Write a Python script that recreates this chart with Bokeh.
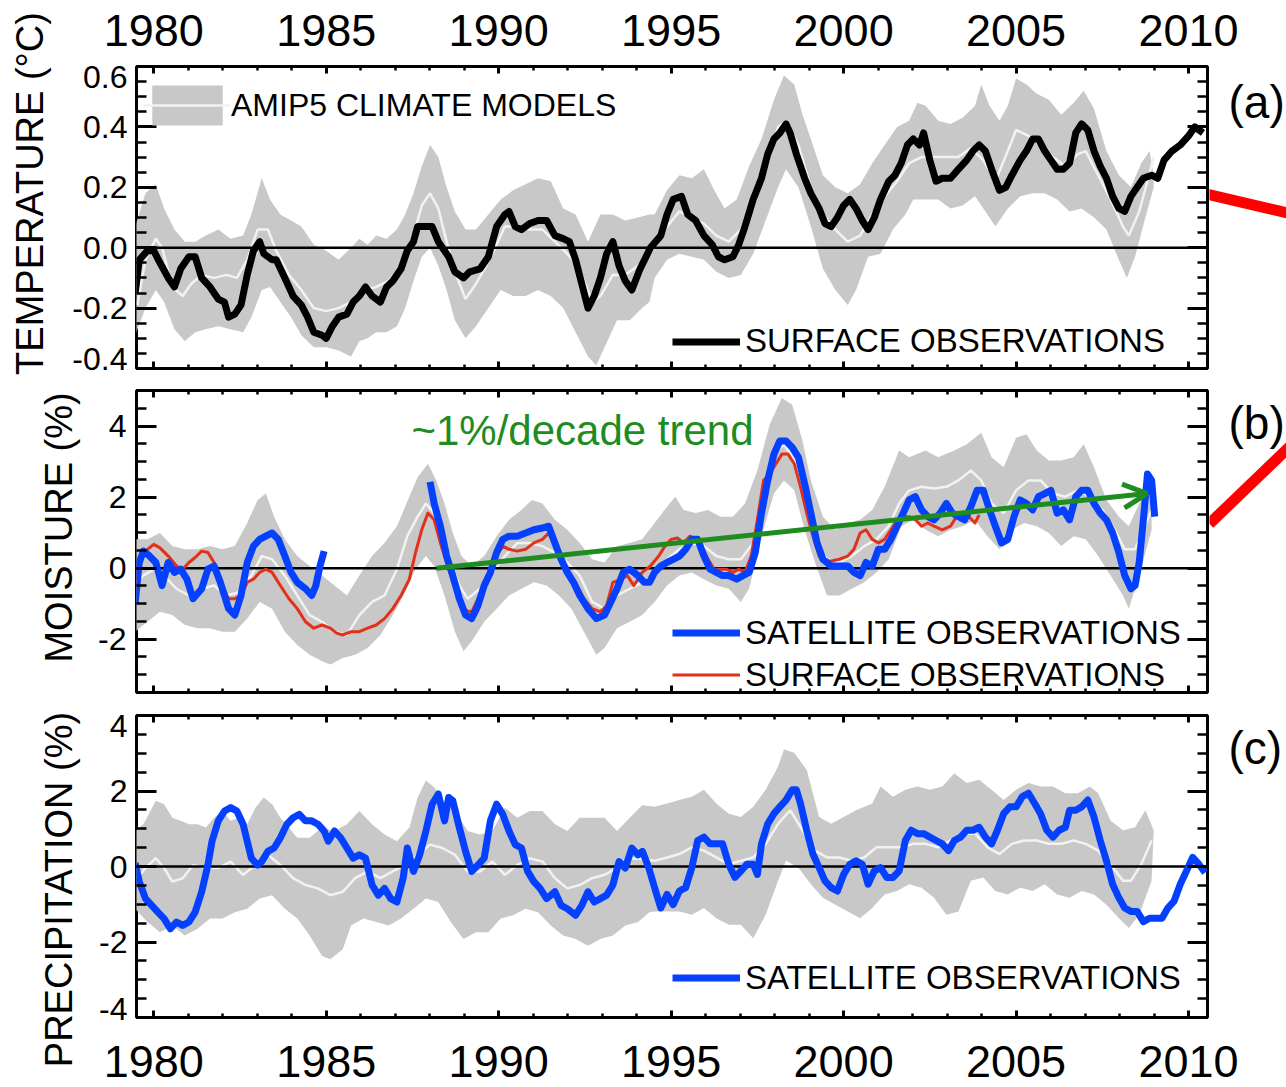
import math
from bokeh.plotting import figure
from bokeh.models import (LinearAxis, SingleIntervalTicker, FixedTicker, NumeralTickFormatter, CustomJSTickFormatter,
                          Range1d, Label, LabelSet, ColumnDataSource, Arrow, OpenHead, Legend, LegendItem)
from bokeh.layouts import column, row
from bokeh.embed import file_html
from bokeh.resources import INLINE
from bokeh.core.properties import value

# ---------------------------------------------------------------- data
XTICK_YEARS = [1980, 1985, 1990, 1995, 2000, 2005, 2010]
XTICK_LABELS = ["1980", "1985", "1990", "1995", "2000", "2005", "2010"]
TEMP_TICKS = [-0.4, -0.2, 0.0, 0.2, 0.4, 0.6]
TEMP_LABELS = ["-0.4", "-0.2", "0.0", "0.2", "0.4", "0.6"]
TEMP_LABEL_POS = [-0.368, -0.2, 0.0, 0.2, 0.4, 0.565]      # end labels sit inside the frame, as in the original
PRECIP_LABELS = ["-4", "-2", "0", "2", "4"]
PRECIP_LABEL_POS = [-3.775, -2.0, 0.0, 2.0, 3.71]

# (a) temperature anomaly, degC
TEMP_OBS = [(1979.46, -0.15), (1979.58, -0.04), (1979.82, -0.01), (1980.00, -0.01), (1980.18, -0.05), (1980.42, -0.10),
            (1980.60, -0.13), (1980.78, -0.07), (1981.02, -0.03), (1981.20, -0.03), (1981.39, -0.10), (1981.63, -0.13),
            (1981.87, -0.17), (1982.05, -0.18), (1982.17, -0.23), (1982.35, -0.22), (1982.53, -0.19), (1982.71, -0.09),
            (1982.89, -0.01), (1983.07, 0.02), (1983.19, -0.02), (1983.43, -0.04), (1983.55, -0.04), (1983.80, -0.10),
            (1984.04, -0.16), (1984.28, -0.19), (1984.46, -0.23), (1984.64, -0.28), (1984.88, -0.29), (1985.00, -0.30),
            (1985.18, -0.26), (1985.36, -0.23), (1985.60, -0.22), (1985.78, -0.18), (1985.96, -0.16), (1986.14, -0.13),
            (1986.33, -0.16), (1986.57, -0.18), (1986.75, -0.13), (1986.93, -0.11), (1987.17, -0.07), (1987.35, -0.01),
            (1987.53, 0.02), (1987.65, 0.07), (1987.89, 0.07), (1988.07, 0.07), (1988.25, 0.02), (1988.55, -0.03),
            (1988.73, -0.08), (1988.98, -0.10), (1989.16, -0.08), (1989.46, -0.07), (1989.70, -0.03), (1989.94, 0.07),
            (1990.18, 0.11), (1990.30, 0.12), (1990.48, 0.07), (1990.66, 0.06), (1990.90, 0.08), (1991.14, 0.09),
            (1991.39, 0.09), (1991.63, 0.04), (1991.87, 0.03), (1992.05, 0.02), (1992.23, -0.04), (1992.41, -0.12),
            (1992.59, -0.20), (1992.77, -0.16), (1992.95, -0.10), (1993.13, -0.02), (1993.31, 0.02), (1993.49, -0.06),
            (1993.67, -0.11), (1993.86, -0.14), (1994.10, -0.07), (1994.40, 0.00), (1994.70, 0.04), (1994.88, 0.11),
            (1995.06, 0.16), (1995.30, 0.17), (1995.48, 0.11), (1995.71, 0.09), (1995.95, 0.04), (1996.19, 0.01),
            (1996.37, -0.03), (1996.55, -0.04), (1996.79, -0.03), (1996.96, 0.01), (1997.14, 0.07), (1997.38, 0.16),
            (1997.62, 0.23), (1997.80, 0.31), (1997.98, 0.36), (1998.15, 0.38), (1998.33, 0.41), (1998.45, 0.38),
            (1998.63, 0.31), (1998.87, 0.23), (1999.05, 0.18), (1999.29, 0.13), (1999.46, 0.08), (1999.64, 0.07),
            (1999.82, 0.10), (2000.00, 0.14), (2000.18, 0.16), (2000.36, 0.13), (2000.54, 0.09), (2000.71, 0.06),
            (2000.89, 0.10), (2001.07, 0.16), (2001.31, 0.22), (2001.49, 0.24), (2001.67, 0.28), (2001.85, 0.34),
            (2002.02, 0.36), (2002.20, 0.34), (2002.32, 0.38), (2002.50, 0.29), (2002.68, 0.22), (2002.86, 0.23),
            (2003.10, 0.23), (2003.33, 0.26), (2003.57, 0.29), (2003.75, 0.32), (2003.93, 0.34), (2004.11, 0.32),
            (2004.29, 0.26), (2004.52, 0.19), (2004.70, 0.20), (2004.88, 0.24), (2005.12, 0.29), (2005.30, 0.32),
            (2005.48, 0.36), (2005.65, 0.36), (2005.83, 0.32), (2006.01, 0.29), (2006.19, 0.26), (2006.37, 0.26),
            (2006.55, 0.28), (2006.73, 0.38), (2006.90, 0.41), (2007.08, 0.39), (2007.26, 0.32), (2007.44, 0.27),
            (2007.62, 0.23), (2007.80, 0.17), (2007.98, 0.13), (2008.15, 0.12), (2008.33, 0.17), (2008.51, 0.20),
            (2008.69, 0.23), (2008.93, 0.24), (2009.11, 0.23), (2009.29, 0.29), (2009.52, 0.32), (2009.76, 0.34),
            (2010.00, 0.37), (2010.18, 0.40), (2010.42, 0.38)]

TEMP_MEAN = [(1979.52, -0.19), (1979.76, -0.04), (1980.06, 0.03), (1980.24, 0.00), (1980.54, -0.13), (1980.84, -0.16),
             (1981.08, -0.12), (1981.39, -0.09), (1981.75, -0.10), (1982.11, -0.09), (1982.41, -0.10), (1982.71, -0.04),
             (1983.01, 0.06), (1983.31, 0.06), (1983.55, -0.01), (1983.92, -0.09), (1984.28, -0.14), (1984.64, -0.20),
             (1985.00, -0.21), (1985.36, -0.20), (1985.72, -0.18), (1986.08, -0.14), (1986.45, -0.13), (1986.81, -0.11),
             (1987.17, -0.06), (1987.53, 0.04), (1987.77, 0.14), (1988.01, 0.18), (1988.25, 0.13), (1988.49, 0.02),
             (1988.73, -0.08), (1989.04, -0.17), (1989.34, -0.12), (1989.64, -0.06), (1989.94, 0.01), (1990.18, 0.07),
             (1990.54, 0.07), (1990.90, 0.06), (1991.27, 0.06), (1991.63, 0.02), (1991.99, -0.02), (1992.35, -0.07),
             (1992.71, -0.18), (1992.95, -0.16), (1993.31, -0.09), (1993.67, -0.09), (1994.04, -0.06), (1994.37, -0.02),
             (1994.52, 0.00), (1994.88, 0.07), (1995.24, 0.12), (1995.60, 0.10), (1995.95, 0.08), (1996.31, 0.04),
             (1996.67, 0.02), (1997.02, 0.06), (1997.38, 0.13), (1997.74, 0.26), (1998.10, 0.40), (1998.33, 0.42),
             (1998.69, 0.34), (1999.05, 0.20), (1999.40, 0.11), (1999.76, 0.06), (2000.12, 0.02), (2000.48, 0.04),
             (2000.83, 0.11), (2001.19, 0.17), (2001.55, 0.22), (2001.90, 0.28), (2002.26, 0.30), (2002.62, 0.30),
             (2002.98, 0.30), (2003.33, 0.30), (2003.69, 0.33), (2004.05, 0.29), (2004.40, 0.22), (2004.76, 0.32),
             (2005.00, 0.39), (2005.36, 0.37), (2005.71, 0.34), (2006.07, 0.30), (2006.43, 0.27), (2006.79, 0.31),
             (2007.02, 0.32), (2007.38, 0.24), (2007.74, 0.16), (2008.10, 0.07), (2008.27, 0.04), (2008.57, 0.12),
             (2008.81, 0.22), (2008.99, 0.30)]

TEMP_UPPER = [(1979.46, 0.07), (1979.76, 0.18), (1980.06, 0.21), (1980.30, 0.13), (1980.60, 0.06), (1980.90, 0.02),
              (1981.20, 0.02), (1981.51, 0.04), (1981.87, 0.06), (1982.23, 0.03), (1982.59, 0.04), (1982.83, 0.11),
              (1983.13, 0.23), (1983.37, 0.16), (1983.67, 0.11), (1983.98, 0.09), (1984.28, 0.07), (1984.64, 0.01),
              (1985.00, -0.01), (1985.36, -0.04), (1985.72, 0.00), (1985.96, 0.03), (1986.20, 0.01), (1986.45, 0.04),
              (1986.75, 0.03), (1987.05, 0.06), (1987.29, 0.11), (1987.53, 0.18), (1987.77, 0.27), (1988.01, 0.34),
              (1988.25, 0.30), (1988.49, 0.20), (1988.73, 0.12), (1989.04, 0.06), (1989.34, 0.06), (1989.70, 0.11),
              (1990.06, 0.16), (1990.42, 0.19), (1990.78, 0.21), (1991.14, 0.23), (1991.51, 0.22), (1991.87, 0.13),
              (1992.23, 0.11), (1992.59, 0.02), (1992.95, 0.11), (1993.31, 0.11), (1993.67, 0.09), (1994.04, 0.10),
              (1994.37, 0.11), (1994.52, 0.11), (1994.88, 0.19), (1995.24, 0.24), (1995.60, 0.23), (1995.95, 0.26),
              (1996.25, 0.19), (1996.55, 0.13), (1996.90, 0.16), (1997.26, 0.27), (1997.62, 0.36), (1997.98, 0.49),
              (1998.27, 0.57), (1998.57, 0.54), (1998.81, 0.44), (1999.05, 0.36), (1999.40, 0.24), (1999.76, 0.20),
              (2000.12, 0.18), (2000.48, 0.21), (2000.83, 0.28), (2001.19, 0.34), (2001.55, 0.40), (2001.90, 0.42),
              (2002.14, 0.48), (2002.38, 0.47), (2002.74, 0.42), (2003.10, 0.41), (2003.45, 0.43), (2003.81, 0.47),
              (2003.99, 0.54), (2004.23, 0.47), (2004.52, 0.42), (2004.76, 0.47), (2005.00, 0.56), (2005.30, 0.54),
              (2005.60, 0.51), (2005.95, 0.49), (2006.31, 0.44), (2006.67, 0.48), (2006.96, 0.52), (2007.26, 0.46),
              (2007.62, 0.32), (2007.98, 0.24), (2008.33, 0.20), (2008.63, 0.28), (2008.87, 0.32), (2008.99, 0.24)]

TEMP_LOWER = [(1979.46, -0.29), (1979.76, -0.20), (1980.06, -0.14), (1980.30, -0.18), (1980.60, -0.27), (1980.90, -0.31),
              (1981.20, -0.28), (1981.51, -0.27), (1981.87, -0.26), (1982.23, -0.27), (1982.59, -0.28), (1982.83, -0.23),
              (1983.13, -0.14), (1983.37, -0.13), (1983.67, -0.18), (1983.98, -0.23), (1984.28, -0.29), (1984.64, -0.33),
              (1985.00, -0.33), (1985.36, -0.34), (1985.72, -0.36), (1985.96, -0.31), (1986.20, -0.30), (1986.45, -0.28),
              (1986.75, -0.28), (1987.05, -0.26), (1987.29, -0.20), (1987.53, -0.11), (1987.77, -0.03), (1988.01, 0.00),
              (1988.25, -0.06), (1988.49, -0.14), (1988.73, -0.24), (1989.04, -0.30), (1989.34, -0.26), (1989.70, -0.20),
              (1990.06, -0.14), (1990.42, -0.16), (1990.78, -0.16), (1991.14, -0.14), (1991.51, -0.16), (1991.87, -0.20),
              (1992.23, -0.28), (1992.59, -0.36), (1992.83, -0.39), (1993.07, -0.33), (1993.43, -0.24), (1993.80, -0.24),
              (1994.16, -0.20), (1994.37, -0.18), (1994.52, -0.10), (1994.88, -0.04), (1995.24, -0.02), (1995.60, -0.03),
              (1995.95, -0.04), (1996.31, -0.08), (1996.67, -0.10), (1997.02, -0.09), (1997.38, -0.02), (1997.74, 0.09),
              (1998.10, 0.20), (1998.33, 0.26), (1998.69, 0.20), (1999.05, 0.07), (1999.40, -0.07), (1999.76, -0.14),
              (2000.12, -0.19), (2000.36, -0.14), (2000.71, -0.03), (2001.07, -0.02), (2001.43, 0.06), (2001.79, 0.11),
              (2002.02, 0.16), (2002.38, 0.16), (2002.74, 0.16), (2003.10, 0.13), (2003.45, 0.14), (2003.81, 0.17),
              (2004.17, 0.11), (2004.40, 0.07), (2004.76, 0.13), (2005.12, 0.17), (2005.48, 0.18), (2005.83, 0.18),
              (2006.19, 0.16), (2006.55, 0.12), (2006.90, 0.13), (2007.26, 0.10), (2007.62, 0.06), (2007.98, -0.04),
              (2008.21, -0.10), (2008.45, -0.03), (2008.75, 0.10), (2008.99, 0.20)]

# (b) column water vapour anomaly, %
MOIST_SAT_EARLY = [(1979.46, -1.00), (1979.58, 0.16), (1979.70, 0.48), (1979.88, 0.34), (1980.06, 0.16), (1980.24, -0.49),
                   (1980.42, 0.16), (1980.60, -0.12), (1980.78, -0.03), (1980.96, -0.31), (1981.14, -0.86), (1981.39, -0.58),
                   (1981.57, -0.03), (1981.75, 0.06), (1981.93, -0.40), (1982.17, -1.14), (1982.35, -1.32), (1982.53, -0.77),
                   (1982.71, 0.16), (1982.89, 0.62), (1983.07, 0.81), (1983.25, 0.90), (1983.43, 0.99), (1983.61, 0.81),
                   (1983.80, 0.34), (1983.98, -0.12), (1984.16, -0.40), (1984.40, -0.58), (1984.58, -0.77), (1984.70, -0.49),
                   (1984.82, 0.06), (1984.94, 0.48)]

MOIST_SAT_LATE = [(1988.01, 2.43), (1988.13, 1.82), (1988.31, 1.18), (1988.49, 0.34), (1988.67, -0.21), (1988.86, -0.86),
                  (1989.04, -1.32), (1989.22, -1.42), (1989.40, -1.05), (1989.58, -0.49), (1989.76, -0.12), (1989.94, 0.44),
                  (1990.12, 0.81), (1990.30, 0.90), (1990.54, 0.90), (1990.78, 0.99), (1991.02, 1.08), (1991.27, 1.13),
                  (1991.45, 1.18), (1991.63, 0.71), (1991.81, 0.25), (1991.99, -0.12), (1992.17, -0.40), (1992.35, -0.77),
                  (1992.59, -1.14), (1992.83, -1.42), (1993.07, -1.32), (1993.25, -0.95), (1993.43, -0.58), (1993.61, -0.12),
                  (1993.80, -0.03), (1994.04, -0.21), (1994.22, -0.40), (1994.37, -0.40), (1994.52, -0.12), (1994.70, 0.06),
                  (1994.88, 0.16), (1995.06, 0.25), (1995.24, 0.34), (1995.42, 0.53), (1995.60, 0.81), (1995.77, 0.81),
                  (1995.95, 0.34), (1996.13, -0.03), (1996.31, -0.12), (1996.49, -0.21), (1996.67, -0.21), (1996.90, -0.31),
                  (1997.08, -0.21), (1997.26, -0.12), (1997.44, 0.44), (1997.62, 1.55), (1997.80, 2.47), (1997.98, 3.21),
                  (1998.15, 3.58), (1998.33, 3.58), (1998.51, 3.40), (1998.69, 3.12), (1998.87, 2.38), (1999.05, 1.55),
                  (1999.23, 0.71), (1999.40, 0.25), (1999.64, 0.06), (1999.88, 0.06), (2000.12, 0.06), (2000.30, -0.12),
                  (2000.48, -0.21), (2000.65, 0.16), (2000.83, 0.06), (2001.01, 0.53), (2001.19, 0.53), (2001.37, 0.81),
                  (2001.55, 1.18), (2001.73, 1.55), (2001.90, 1.92), (2002.08, 2.01), (2002.26, 1.64), (2002.44, 1.45),
                  (2002.62, 1.36), (2002.80, 1.55), (2002.98, 1.82), (2003.15, 1.55), (2003.33, 1.45), (2003.51, 1.36),
                  (2003.69, 1.73), (2003.87, 2.19), (2004.05, 2.19), (2004.23, 1.64), (2004.40, 1.18), (2004.58, 0.71),
                  (2004.76, 0.81), (2004.94, 1.45), (2005.12, 1.92), (2005.30, 1.82), (2005.48, 1.64), (2005.65, 2.01),
                  (2005.83, 2.10), (2006.01, 2.19), (2006.19, 1.55), (2006.37, 1.64), (2006.55, 1.36), (2006.73, 2.01),
                  (2006.90, 2.19), (2007.08, 2.19), (2007.26, 1.82), (2007.44, 1.55), (2007.62, 1.36), (2007.80, 0.99),
                  (2007.98, 0.44), (2008.15, -0.21), (2008.33, -0.58), (2008.45, -0.49), (2008.57, 0.16), (2008.69, 1.36),
                  (2008.81, 2.65), (2008.93, 2.47), (2009.02, 1.45)]

MOIST_SFC = [(1979.46, -0.58), (1979.64, 0.34), (1979.82, 0.53), (1980.00, 0.67), (1980.18, 0.57), (1980.42, 0.34),
             (1980.66, 0.06), (1980.84, -0.03), (1981.02, 0.16), (1981.20, 0.30), (1981.39, 0.48), (1981.57, 0.44),
             (1981.75, 0.16), (1981.93, -0.40), (1982.17, -0.86), (1982.35, -0.86), (1982.53, -0.77), (1982.71, -0.40),
             (1982.89, -0.31), (1983.07, -0.12), (1983.25, -0.03), (1983.43, -0.12), (1983.67, -0.49), (1983.92, -0.86),
             (1984.16, -1.14), (1984.40, -1.51), (1984.64, -1.69), (1984.88, -1.60), (1985.12, -1.69), (1985.30, -1.83),
             (1985.48, -1.88), (1985.72, -1.79), (1985.96, -1.79), (1986.20, -1.69), (1986.45, -1.60), (1986.69, -1.42),
             (1986.93, -1.14), (1987.17, -0.77), (1987.41, -0.31), (1987.59, 0.44), (1987.77, 1.08), (1987.95, 1.55),
             (1988.13, 1.36), (1988.31, 0.71), (1988.49, 0.16), (1988.67, -0.40), (1988.86, -0.86), (1989.04, -1.19),
             (1989.22, -1.23), (1989.40, -0.86), (1989.58, -0.40), (1989.76, -0.12), (1989.94, 0.34), (1990.12, 0.62),
             (1990.30, 0.53), (1990.54, 0.48), (1990.78, 0.53), (1991.02, 0.71), (1991.27, 0.81), (1991.45, 0.99),
             (1991.63, 0.62), (1991.81, 0.16), (1991.99, -0.21), (1992.23, -0.40), (1992.47, -0.86), (1992.71, -1.14),
             (1992.95, -1.23), (1993.13, -1.05), (1993.31, -0.40), (1993.55, -0.31), (1993.73, -0.21), (1993.92, -0.49),
             (1994.16, -0.12), (1994.40, 0.06), (1994.64, 0.34), (1994.82, 0.62), (1995.00, 0.81), (1995.18, 0.85),
             (1995.36, 0.71), (1995.54, 0.90), (1995.71, 0.81), (1995.89, 0.62), (1996.07, 0.25), (1996.25, -0.03),
             (1996.43, -0.03), (1996.61, -0.03), (1996.79, -0.12), (1996.96, -0.03), (1997.14, -0.12), (1997.32, 0.34),
             (1997.50, 1.36), (1997.68, 2.47), (1997.86, 2.65), (1998.04, 2.94), (1998.21, 3.21), (1998.39, 3.21),
             (1998.57, 2.94), (1998.75, 2.29), (1998.93, 1.55), (1999.11, 0.90), (1999.29, 0.34), (1999.46, 0.20),
             (1999.64, 0.20), (1999.88, 0.25), (2000.12, 0.34), (2000.30, 0.53), (2000.48, 0.99), (2000.65, 1.08),
             (2000.83, 0.81), (2001.01, 0.71), (2001.19, 0.81), (2001.37, 1.08), (2001.55, 1.36), (2001.73, 1.45),
             (2001.90, 1.45), (2002.08, 1.36), (2002.26, 1.18), (2002.44, 1.27), (2002.62, 1.18), (2002.86, 1.08),
             (2003.10, 1.18), (2003.27, 1.45), (2003.45, 1.36), (2003.63, 1.45), (2003.81, 1.27), (2003.93, 1.50)]

MOIST_MEAN = [(1979.46, -0.40), (1979.70, -0.21), (1980.00, -0.03), (1980.30, -0.21), (1980.66, -0.58), (1981.02, -0.77),
              (1981.39, -0.58), (1981.75, -0.49), (1982.11, -0.77), (1982.47, -0.68), (1982.83, -0.21), (1983.13, 0.34),
              (1983.43, 0.25), (1983.80, -0.21), (1984.16, -0.77), (1984.52, -1.32), (1984.88, -1.51), (1985.24, -1.79),
              (1985.60, -1.88), (1985.96, -1.32), (1986.33, -0.95), (1986.69, -0.77), (1987.05, -0.03), (1987.35, 0.90),
              (1987.65, 1.45), (1987.89, 1.82), (1988.13, 1.55), (1988.37, 0.99), (1988.61, 0.16), (1988.86, -0.49),
              (1989.10, -0.86), (1989.46, -0.58), (1989.82, -0.12), (1990.18, 0.34), (1990.54, 0.71), (1990.90, 0.71),
              (1991.27, 0.62), (1991.63, 0.44), (1991.99, 0.16), (1992.35, -0.21), (1992.71, -0.95), (1993.07, -1.14),
              (1993.43, -0.77), (1993.80, -0.58), (1994.16, -0.40), (1994.52, -0.21), (1994.88, 0.25), (1995.24, 0.53),
              (1995.60, 0.71), (1995.95, 0.62), (1996.31, 0.34), (1996.67, 0.25), (1997.02, 0.25), (1997.38, 0.71),
              (1997.68, 2.01), (1997.98, 3.21), (1998.27, 3.49), (1998.57, 3.03), (1998.87, 2.01), (1999.17, 0.71),
              (1999.52, 0.25), (1999.88, 0.16), (2000.24, 0.34), (2000.60, 0.62), (2000.95, 0.81), (2001.31, 1.18),
              (2001.61, 1.82), (2001.90, 2.19), (2002.26, 2.29), (2002.62, 2.24), (2002.98, 2.29), (2003.33, 2.47),
              (2003.69, 2.75), (2003.99, 2.47), (2004.29, 1.82), (2004.64, 1.55), (2005.00, 2.19), (2005.36, 2.47),
              (2005.71, 2.47), (2006.07, 2.10), (2006.43, 2.01), (2006.79, 2.19), (2007.14, 2.01), (2007.50, 1.64),
              (2007.86, 1.08), (2008.15, 0.53), (2008.45, 0.53), (2008.69, 1.08), (2008.93, 1.64)]

MOIST_UPPER = [(1979.46, 0.81), (1979.82, 0.81), (1980.18, 0.99), (1980.54, 0.62), (1980.90, 0.53), (1981.27, 0.53),
               (1981.63, 0.62), (1981.99, 0.53), (1982.35, 0.62), (1982.71, 1.27), (1983.01, 1.92), (1983.25, 2.10),
               (1983.49, 1.45), (1983.80, 0.81), (1984.16, 0.34), (1984.52, 0.06), (1984.88, -0.21), (1985.24, -0.49),
               (1985.60, -0.77), (1985.96, -0.21), (1986.33, 0.34), (1986.69, 0.71), (1987.05, 1.18), (1987.41, 2.01),
               (1987.65, 2.56), (1987.95, 2.94), (1988.19, 2.47), (1988.43, 1.82), (1988.67, 0.99), (1988.92, 0.34),
               (1989.22, 0.06), (1989.58, 0.34), (1989.94, 0.90), (1990.30, 1.36), (1990.66, 1.64), (1990.96, 1.92),
               (1991.27, 1.82), (1991.63, 1.36), (1991.99, 1.08), (1992.35, 0.71), (1992.71, 0.25), (1993.07, 0.16),
               (1993.43, 0.62), (1993.80, 0.71), (1994.16, 0.81), (1994.52, 1.27), (1994.88, 1.73), (1995.12, 2.01),
               (1995.36, 1.64), (1995.71, 1.55), (1996.07, 1.64), (1996.43, 1.45), (1996.79, 1.45), (1997.14, 1.82),
               (1997.50, 2.75), (1997.86, 4.05), (1998.21, 4.79), (1998.51, 4.60), (1998.81, 3.58), (1999.05, 2.47),
               (1999.40, 1.45), (1999.76, 1.08), (2000.12, 1.27), (2000.48, 1.36), (2000.83, 1.64), (2001.19, 2.29),
               (2001.61, 3.31), (2001.90, 3.12), (2002.38, 3.31), (2002.74, 3.12), (2003.21, 3.31), (2003.57, 3.49),
               (2003.99, 3.81), (2004.29, 3.12), (2004.64, 2.84), (2005.00, 3.67), (2005.30, 3.77), (2005.60, 3.31),
               (2005.95, 3.03), (2006.31, 3.03), (2006.67, 3.12), (2006.96, 3.49), (2007.26, 2.84), (2007.62, 1.92),
               (2007.98, 1.45), (2008.27, 1.18), (2008.57, 1.82), (2008.93, 2.29)]

MOIST_LOWER = [(1979.46, -1.79), (1979.82, -1.51), (1980.18, -1.23), (1980.54, -1.32), (1980.90, -1.60), (1981.27, -1.69),
               (1981.63, -1.69), (1981.99, -1.79), (1982.35, -1.79), (1982.71, -1.42), (1983.07, -0.95), (1983.43, -1.14),
               (1983.80, -1.79), (1984.16, -2.16), (1984.52, -2.44), (1984.88, -2.62), (1985.12, -2.71), (1985.48, -2.53),
               (1985.84, -2.44), (1986.20, -2.25), (1986.57, -1.88), (1986.93, -1.32), (1987.29, -0.68), (1987.59, -0.03),
               (1987.89, 0.34), (1988.13, 0.06), (1988.43, -0.77), (1988.73, -1.79), (1988.98, -2.34), (1989.22, -2.06),
               (1989.58, -1.51), (1989.94, -1.14), (1990.30, -0.77), (1990.66, -0.58), (1991.02, -0.40), (1991.39, -0.49),
               (1991.75, -0.77), (1992.11, -1.14), (1992.47, -1.79), (1992.83, -2.44), (1993.07, -2.25), (1993.43, -1.69),
               (1993.80, -1.51), (1994.16, -1.32), (1994.52, -0.95), (1994.88, -0.49), (1995.24, -0.21), (1995.60, -0.12),
               (1995.95, -0.31), (1996.31, -0.49), (1996.67, -0.58), (1997.02, -0.95), (1997.26, -0.58), (1997.62, 0.90),
               (1997.98, 2.10), (1998.27, 2.47), (1998.57, 2.19), (1998.87, 1.08), (1999.17, 0.16), (1999.52, -0.77),
               (1999.88, -0.77), (2000.24, -0.58), (2000.60, -0.40), (2000.95, -0.12), (2001.31, 0.25), (2001.67, 1.18),
               (2002.02, 1.36), (2002.38, 1.08), (2002.74, 0.90), (2003.10, 1.08), (2003.45, 1.18), (2003.81, 1.36),
               (2004.17, 0.90), (2004.52, 0.53), (2004.88, 1.08), (2005.24, 1.27), (2005.60, 1.18), (2005.95, 0.99),
               (2006.31, 0.62), (2006.67, 0.90), (2007.02, 0.81), (2007.38, 0.34), (2007.74, -0.21), (2008.10, -0.77),
               (2008.27, -1.14), (2008.57, -0.21), (2008.93, 1.08)]

TREND_START = (1988.2, 0.0)
TREND_END = (2008.8, 2.1)

# (c) precipitation anomaly, %
PRECIP_SAT = [(1979.46, 0.09), (1979.58, -0.40), (1979.76, -0.85), (1979.94, -1.03), (1980.12, -1.21), (1980.30, -1.38),
              (1980.48, -1.65), (1980.66, -1.47), (1980.84, -1.56), (1981.02, -1.47), (1981.20, -1.21), (1981.39, -0.67),
              (1981.57, 0.04), (1981.69, 0.67), (1981.87, 1.21), (1982.05, 1.47), (1982.23, 1.56), (1982.41, 1.47),
              (1982.59, 1.12), (1982.71, 0.67), (1982.83, 0.22), (1983.01, 0.04), (1983.13, 0.13), (1983.31, 0.40),
              (1983.49, 0.49), (1983.67, 0.76), (1983.86, 1.12), (1984.04, 1.29), (1984.22, 1.38), (1984.40, 1.21),
              (1984.58, 1.21), (1984.76, 1.12), (1984.94, 0.94), (1985.06, 0.67), (1985.24, 0.94), (1985.42, 0.76),
              (1985.60, 0.49), (1985.78, 0.22), (1985.96, 0.31), (1986.14, 0.22), (1986.33, -0.49), (1986.51, -0.76),
              (1986.69, -0.58), (1986.87, -0.85), (1987.05, -0.94), (1987.23, -0.31), (1987.35, 0.49), (1987.53, -0.13),
              (1987.71, 0.31), (1987.89, 0.94), (1988.07, 1.65), (1988.25, 1.92), (1988.43, 1.21), (1988.55, 1.83),
              (1988.67, 1.74), (1988.86, 1.03), (1989.04, 0.40), (1989.22, -0.13), (1989.40, 0.04), (1989.58, 0.22),
              (1989.76, 1.21), (1989.94, 1.65), (1990.12, 1.38), (1990.30, 0.94), (1990.48, 0.58), (1990.66, 0.49),
              (1990.84, -0.13), (1991.02, -0.40), (1991.20, -0.58), (1991.39, -0.85), (1991.63, -0.67), (1991.81, -1.03),
              (1991.99, -1.12), (1992.23, -1.29), (1992.41, -1.03), (1992.59, -0.67), (1992.77, -0.94), (1992.95, -0.85),
              (1993.13, -0.76), (1993.31, -0.49), (1993.49, 0.13), (1993.67, -0.04), (1993.86, 0.49), (1994.04, 0.31),
              (1994.17, 0.40), (1994.35, -0.03), (1994.52, -0.56), (1994.70, -1.10), (1994.88, -0.74), (1995.06, -1.01),
              (1995.24, -0.65), (1995.42, -0.56), (1995.60, -0.03), (1995.77, 0.69), (1995.95, 0.78), (1996.13, 0.60),
              (1996.31, 0.60), (1996.49, 0.60), (1996.67, 0.06), (1996.85, -0.29), (1997.02, -0.12), (1997.20, 0.06),
              (1997.38, 0.06), (1997.50, -0.21), (1997.62, 0.60), (1997.80, 1.13), (1997.98, 1.40), (1998.15, 1.58),
              (1998.33, 1.76), (1998.51, 2.03), (1998.63, 2.03), (1998.75, 1.67), (1998.93, 0.96), (1999.11, 0.33),
              (1999.29, -0.03), (1999.46, -0.38), (1999.64, -0.56), (1999.82, -0.65), (2000.00, -0.21), (2000.18, 0.06),
              (2000.36, 0.15), (2000.54, 0.06), (2000.71, -0.47), (2000.89, -0.12), (2001.07, -0.03), (2001.25, -0.29),
              (2001.43, -0.29), (2001.61, -0.12), (2001.79, 0.69), (2001.96, 0.96), (2002.14, 0.87), (2002.32, 0.87),
              (2002.50, 0.78), (2002.68, 0.69), (2002.86, 0.60), (2003.04, 0.42), (2003.21, 0.69), (2003.39, 0.78),
              (2003.57, 0.96), (2003.75, 0.96), (2003.93, 1.04), (2004.11, 0.78), (2004.29, 0.60), (2004.46, 0.96),
              (2004.64, 1.40), (2004.82, 1.58), (2005.00, 1.58), (2005.18, 1.85), (2005.36, 1.94), (2005.54, 1.67),
              (2005.71, 1.40), (2005.89, 0.96), (2006.07, 0.78), (2006.25, 0.96), (2006.43, 1.04), (2006.55, 1.49),
              (2006.73, 1.49), (2006.90, 1.58), (2007.08, 1.76), (2007.26, 1.31), (2007.44, 0.69), (2007.62, 0.15),
              (2007.80, -0.47), (2007.98, -0.83), (2008.15, -1.10), (2008.33, -1.19), (2008.51, -1.19), (2008.69, -1.46),
              (2008.87, -1.37), (2009.05, -1.37), (2009.23, -1.37), (2009.40, -1.10), (2009.58, -0.92), (2009.76, -0.47),
              (2009.94, -0.12), (2010.12, 0.24), (2010.30, 0.06), (2010.48, -0.16)]

PRECIP_MEAN = [(1979.52, -0.31), (1979.76, -0.04), (1980.06, 0.22), (1980.30, -0.04), (1980.54, -0.40), (1980.84, -0.31),
               (1981.14, 0.04), (1981.51, -0.04), (1981.87, -0.04), (1982.23, 0.13), (1982.59, -0.22), (1982.95, 0.04),
               (1983.31, 0.31), (1983.67, 0.04), (1984.04, -0.31), (1984.40, -0.49), (1984.76, -0.58), (1985.12, -0.76),
               (1985.48, -0.67), (1985.84, -0.31), (1986.20, -0.13), (1986.57, -0.31), (1986.93, -0.13), (1987.29, 0.04),
               (1987.65, 0.31), (1988.01, 0.58), (1988.37, 0.49), (1988.73, 0.31), (1989.10, -0.13), (1989.46, -0.13),
               (1989.82, 0.13), (1990.18, -0.22), (1990.54, 0.04), (1990.90, 0.22), (1991.27, 0.13), (1991.63, -0.31),
               (1991.99, -0.58), (1992.35, -0.49), (1992.71, -0.31), (1993.07, -0.22), (1993.43, -0.04), (1993.80, 0.22),
               (1994.16, 0.20), (1994.52, 0.15), (1994.88, 0.24), (1995.24, 0.33), (1995.60, 0.51), (1995.95, 0.42),
               (1996.31, 0.24), (1996.67, 0.06), (1997.02, 0.15), (1997.38, 0.24), (1997.74, 0.60), (1998.10, 1.13),
               (1998.45, 1.49), (1998.81, 0.96), (1999.17, 0.42), (1999.52, 0.24), (1999.88, 0.24), (2000.24, 0.15),
               (2000.60, 0.24), (2000.95, 0.51), (2001.31, 0.51), (2001.67, 0.51), (2002.02, 0.60), (2002.38, 0.60),
               (2002.74, 0.51), (2003.10, 0.69), (2003.45, 0.87), (2003.81, 0.87), (2004.17, 0.51), (2004.52, 0.33),
               (2004.88, 0.60), (2005.24, 0.69), (2005.60, 0.69), (2005.95, 0.60), (2006.31, 0.60), (2006.67, 0.69),
               (2007.02, 0.60), (2007.38, 0.42), (2007.74, 0.06), (2008.10, -0.38), (2008.33, -0.38), (2008.63, 0.06),
               (2008.93, 0.69)]

PRECIP_UPPER = [(1979.46, 0.94), (1979.70, 1.12), (1980.06, 1.74), (1980.30, 1.65), (1980.54, 1.29), (1980.78, 1.21),
                (1981.02, 1.12), (1981.27, 1.12), (1981.51, 1.03), (1981.75, 1.29), (1981.99, 1.47), (1982.23, 1.21),
                (1982.47, 1.29), (1982.71, 1.12), (1982.95, 1.56), (1983.19, 1.83), (1983.43, 1.65), (1983.67, 1.29),
                (1983.92, 1.03), (1984.16, 0.76), (1984.52, 0.76), (1984.88, 1.03), (1985.24, 0.94), (1985.60, 1.12),
                (1985.96, 1.47), (1986.33, 1.12), (1986.69, 0.85), (1987.05, 0.67), (1987.41, 1.03), (1987.65, 1.83),
                (1987.89, 2.28), (1988.13, 2.10), (1988.37, 1.74), (1988.61, 1.65), (1988.86, 1.29), (1989.10, 0.94),
                (1989.46, 0.85), (1989.82, 0.94), (1990.18, 1.56), (1990.54, 1.29), (1990.90, 1.47), (1991.27, 1.47),
                (1991.63, 1.12), (1991.99, 0.94), (1992.35, 1.29), (1992.71, 1.29), (1993.07, 1.29), (1993.43, 0.94),
                (1993.80, 1.29), (1994.16, 1.62), (1994.52, 1.58), (1994.88, 1.67), (1995.24, 1.76), (1995.60, 1.85),
                (1995.95, 2.03), (1996.31, 1.67), (1996.67, 1.40), (1997.02, 1.31), (1997.38, 1.58), (1997.74, 2.03),
                (1998.10, 2.65), (1998.27, 3.10), (1998.57, 3.01), (1998.93, 2.56), (1999.29, 1.31), (1999.64, 1.13),
                (2000.00, 1.31), (2000.36, 1.49), (2000.83, 1.67), (2001.07, 2.12), (2001.43, 1.85), (2001.79, 2.03),
                (2002.14, 2.12), (2002.50, 2.03), (2002.86, 2.12), (2003.21, 2.47), (2003.57, 2.21), (2003.93, 2.30),
                (2004.29, 2.03), (2004.64, 1.76), (2005.00, 2.03), (2005.36, 2.21), (2005.71, 2.12), (2006.07, 2.12),
                (2006.43, 1.94), (2006.79, 1.94), (2007.14, 2.12), (2007.38, 1.94), (2007.74, 1.22), (2008.10, 0.96),
                (2008.45, 1.04), (2008.75, 1.49), (2008.99, 0.96)]

PRECIP_LOWER = [(1979.46, -1.12), (1979.82, -1.47), (1980.18, -1.74), (1980.54, -1.56), (1980.90, -1.83), (1981.27, -1.65),
                (1981.63, -1.38), (1981.99, -1.38), (1982.35, -1.21), (1982.71, -1.12), (1983.07, -0.85), (1983.43, -0.76),
                (1983.80, -1.12), (1984.16, -1.38), (1984.52, -1.83), (1984.88, -2.37), (1985.12, -2.46), (1985.48, -2.19),
                (1985.72, -1.56), (1986.08, -1.38), (1986.45, -1.47), (1986.81, -1.56), (1987.17, -1.38), (1987.53, -1.12),
                (1987.89, -0.85), (1988.25, -0.94), (1988.61, -1.47), (1988.98, -1.92), (1989.34, -1.74), (1989.70, -1.74),
                (1990.06, -1.38), (1990.42, -1.29), (1990.78, -1.12), (1991.14, -1.21), (1991.51, -1.56), (1991.87, -1.83),
                (1992.23, -1.92), (1992.59, -2.10), (1992.95, -1.92), (1993.31, -1.83), (1993.67, -1.56), (1994.04, -1.47),
                (1994.37, -1.21), (1994.52, -1.19), (1994.88, -1.19), (1995.24, -1.19), (1995.60, -1.28), (1995.95, -1.10),
                (1996.31, -1.37), (1996.67, -1.54), (1997.02, -1.54), (1997.38, -1.90), (1997.74, -1.28), (1998.10, -0.38),
                (1998.33, 0.15), (1998.69, -0.03), (1999.05, -0.47), (1999.40, -0.83), (1999.76, -1.01), (2000.12, -1.19),
                (2000.48, -1.37), (2000.83, -1.10), (2001.19, -0.74), (2001.55, -0.65), (2001.90, -0.47), (2002.26, -0.56),
                (2002.62, -0.83), (2002.98, -1.28), (2003.33, -1.19), (2003.69, -0.38), (2004.05, -0.29), (2004.40, -0.65),
                (2004.76, -0.74), (2005.12, -0.56), (2005.48, -0.65), (2005.83, -0.47), (2006.19, -0.74), (2006.55, -0.83),
                (2006.90, -0.65), (2007.26, -0.74), (2007.62, -1.01), (2007.98, -1.37), (2008.27, -1.63), (2008.57, -1.28),
                (2008.93, -0.38)]

# ---------------------------------------------------------------- style / layout
FONT = "Liberation Sans"
BAND = "#c8c8c8"
MEAN = "#f2f2f2"
BLUE = "#0540ff"
RED = "#e2301a"
GREEN = "#1e8c1e"
LINK_RED = "#ff0000"

X_START, X_END = 1979.5, 2010.55
FRAME_W = 1071
FRAME_X = 136                         # page x of every frame's left edge
PX_PER_YEAR = FRAME_W / (X_END - X_START)
RIGHT_X = 1209                        # page x where the right-hand side strips start
PAGE_W = 1286


def xs(pairs):
    return [p[0] for p in pairs]


def ys(pairs):
    return [p[1] for p in pairs]


def hide_labels(ax):
    ax.major_label_text_font_size = "1px"
    ax.major_label_text_color = None
    ax.major_label_standoff = 0


def style_axis(ax, tick_in, minor_in, labels):
    ax.axis_line_color = None
    ax.major_tick_in = tick_in
    ax.major_tick_out = 0
    ax.minor_tick_in = minor_in
    ax.minor_tick_out = 0
    ax.major_tick_line_width = 3
    ax.minor_tick_line_width = 2.5
    ax.major_tick_line_color = "black"
    ax.minor_tick_line_color = "black"
    if labels:
        ax.major_label_text_font = FONT
        ax.major_label_text_font_size = "32px"
        ax.major_label_text_color = "black"
        ax.major_label_standoff = 10
    else:
        hide_labels(ax)


def label_only_axis(positions, texts):
    ax = LinearAxis(ticker=FixedTicker(ticks=positions, minor_ticks=[]),
                    formatter=CustomJSTickFormatter(args=dict(labels=texts), code="return labels[index]"))
    ax.axis_line_color = None
    ax.major_tick_line_color = None
    ax.minor_tick_line_color = None
    ax.major_tick_in = 0
    ax.major_tick_out = 0
    ax.minor_tick_in = 0
    ax.minor_tick_out = 0
    ax.major_label_text_font = FONT
    ax.major_label_text_font_size = "32px"
    ax.major_label_text_color = "black"
    ax.major_label_standoff = 9
    return ax


def y_ticker(step):
    if step == 0.2:
        minors = [round(-0.4 + 0.05 * i, 2) for i in range(21)]
        return FixedTicker(ticks=TEMP_TICKS, minor_ticks=minors)
    return SingleIntervalTicker(interval=step, num_minor_ticks=4)


def make_panel(width, height, left, top, bottom, yrange, y_step, y_fmt, label_pos=None, label_text=None):
    p = figure(width=width, height=height, x_range=Range1d(X_START, X_END), y_range=Range1d(*yrange),
               x_axis_type=None, y_axis_type=None, output_backend="svg", toolbar_location=None,
               min_border_left=left, min_border_right=2, min_border_top=top, min_border_bottom=bottom,
               background_fill_color="white", border_fill_color="white")
    p.outline_line_color = "black"
    p.outline_line_width = 3
    p.outline_line_alpha = 1.0
    for side in ("left", "right"):
        ax = LinearAxis(ticker=y_ticker(y_step), formatter=NumeralTickFormatter(format=y_fmt))
        style_axis(ax, 20, 10, side == "left" and label_pos is None)
        p.add_layout(ax, side)
    if label_pos is not None:
        p.add_layout(label_only_axis(label_pos, label_text), "left")
    for side in ("above", "below"):
        ax = LinearAxis(ticker=SingleIntervalTicker(interval=5, num_minor_ticks=5))
        style_axis(ax, 7, 4, False)
        p.add_layout(ax, side)
    return p


def side_fig(width, height, x_range=None):
    f = figure(width=width, height=height, x_range=x_range or Range1d(0, width), y_range=Range1d(height, 0),
               x_axis_type=None, y_axis_type=None, output_backend="svg", toolbar_location=None,
               min_border=0, background_fill_color="white", border_fill_color="white")
    f.outline_line_color = None
    return f


def year_strip(page_x0, width, height, baseline):
    rng = Range1d(X_START - (FRAME_X - page_x0) / PX_PER_YEAR,
                  X_START + (page_x0 + width - FRAME_X) / PX_PER_YEAR)
    f = side_fig(width, height, x_range=rng)
    f.add_layout(LabelSet(x="x", y=baseline, text="text",
                          source=ColumnDataSource(dict(x=XTICK_YEARS, text=XTICK_LABELS)),
                          text_font=value(FONT), text_font_size="45px", text_align="center",
                          text_baseline="alphabetic", text_color="black"))
    return f


def draw_models(p, upper, lower, mean):
    band = p.patch(x=xs(upper) + xs(lower)[::-1], y=ys(upper) + ys(lower)[::-1],
                   fill_color=BAND, line_color=None)
    m = p.line(xs(mean), ys(mean), line_color=MEAN, line_width=2.5)
    p.line([X_START, X_END], [0, 0], line_color="black", line_width=2.5)
    return band, m


def add_legend(p, items, loc, glyph_w, glyph_h, size, standoff, spacing=0):
    lg = Legend(items=items, location=loc, orientation="vertical", glyph_width=glyph_w, glyph_height=glyph_h,
                label_height=glyph_h, label_text_font=FONT, label_text_font_size=size, label_text_color="black",
                label_standoff=standoff, padding=0, margin=0, spacing=spacing,
                border_line_color=None, background_fill_alpha=0.0)
    p.add_layout(lg)


def text(f, s, x, y, angle=0.0, size="38px", align="center", color="black"):
    f.add_layout(Label(x=x, y=y, text=s, angle=angle, text_font=FONT, text_font_size=size,
                       text_align=align, text_baseline="middle", text_color=color))


# ---------------------------------------------------------------- block (a): page y 0..381
p1 = make_panel(RIGHT_X - 68, 326, 68, 11, 13, (-0.4, 0.6), 0.2, "0.0", TEMP_LABEL_POS, TEMP_LABELS)
band_a, mean_a = draw_models(p1, TEMP_UPPER, TEMP_LOWER, TEMP_MEAN)
obs_a = p1.line(xs(TEMP_OBS), ys(TEMP_OBS), line_color="black", line_width=7, line_join="round")
add_legend(p1, [LegendItem(label="AMIP5 CLIMATE MODELS", renderers=[band_a, mean_a])], (7, 238), 88, 50, "32px", 0)
add_legend(p1, [LegendItem(label="SURFACE OBSERVATIONS", renderers=[obs_a])], (536, 8), 68, 37, "33px", 5)

left_a = side_fig(68, 381)
text(left_a, "TEMPERATURE (°C)", 29, 193, angle=math.pi / 2)
top_strip = year_strip(68, PAGE_W - 68, 55, 45)
right_a = side_fig(PAGE_W - RIGHT_X, 326)
text(right_a, "(a)", 19, 38, size="46px", align="left")
right_a.line([-2, 80], [138, 158.5], line_color=LINK_RED, line_width=11)
block_a = row(left_a, column(top_strip, row(p1, right_a)))

# ---------------------------------------------------------------- block (b): page y 381..703
p2 = make_panel(RIGHT_X - 92, 322, 44, 9, 11, (-3.5, 5.0), 2, "0")
draw_models(p2, MOIST_UPPER, MOIST_LOWER, MOIST_MEAN)
sfc_b = p2.line(xs(MOIST_SFC), ys(MOIST_SFC), line_color=RED, line_width=3, line_join="round")
sat_b = p2.line(xs(MOIST_SAT_EARLY), ys(MOIST_SAT_EARLY), line_color=BLUE, line_width=7, line_join="round")
p2.line(xs(MOIST_SAT_LATE), ys(MOIST_SAT_LATE), line_color=BLUE, line_width=7, line_join="round")
p2.add_layout(Arrow(end=OpenHead(size=24, line_color=GREEN, line_width=5),
                    x_start=TREND_START[0], y_start=TREND_START[1], x_end=TREND_END[0], y_end=TREND_END[1],
                    line_color=GREEN, line_width=5))
text(p2, "~1%/decade trend", 1987.47, 3.874, size="42px", align="left", color=GREEN)
add_legend(p2, [LegendItem(label="SATELLITE OBSERVATIONS", renderers=[sat_b]),
                LegendItem(label="SURFACE OBSERVATIONS", renderers=[sfc_b])], (536, -1.5), 68, 37, "33px", 5, 4)

left_b = side_fig(92, 322)
text(left_b, "MOISTURE (%)", 58, 146, angle=math.pi / 2)
right_b = side_fig(PAGE_W - RIGHT_X, 322)
text(right_b, "(b)", 19, 35, size="46px", align="left")
right_b.line([0, 81], [142, 59], line_color=LINK_RED, line_width=11)
block_b = row(left_b, p2, right_b)

# ---------------------------------------------------------------- block (c): page y 703..1086
p3 = make_panel(RIGHT_X - 92, 328, 44, 12, 14, (-4.0, 4.0), 2, "0", PRECIP_LABEL_POS, PRECIP_LABELS)
draw_models(p3, PRECIP_UPPER, PRECIP_LOWER, PRECIP_MEAN)
sat_c = p3.line(xs(PRECIP_SAT), ys(PRECIP_SAT), line_color=BLUE, line_width=7, line_join="round")
add_legend(p3, [LegendItem(label="SATELLITE OBSERVATIONS", renderers=[sat_c])], (536, 20.5), 68, 37, "33px", 5)

left_c = side_fig(92, 383)
text(left_c, "PRECIPITATION (%)", 58, 186, angle=math.pi / 2)
right_c = side_fig(PAGE_W - RIGHT_X, 328)
text(right_c, "(c)", 19, 35, size="46px", align="left")
bottom_strip = year_strip(92, PAGE_W - 92, 55, 45)
block_c = row(left_c, column(row(p3, right_c), bottom_strip))

layout = column(block_a, block_b, block_c)
open("out.html", "w").write(file_html(layout, INLINE))
